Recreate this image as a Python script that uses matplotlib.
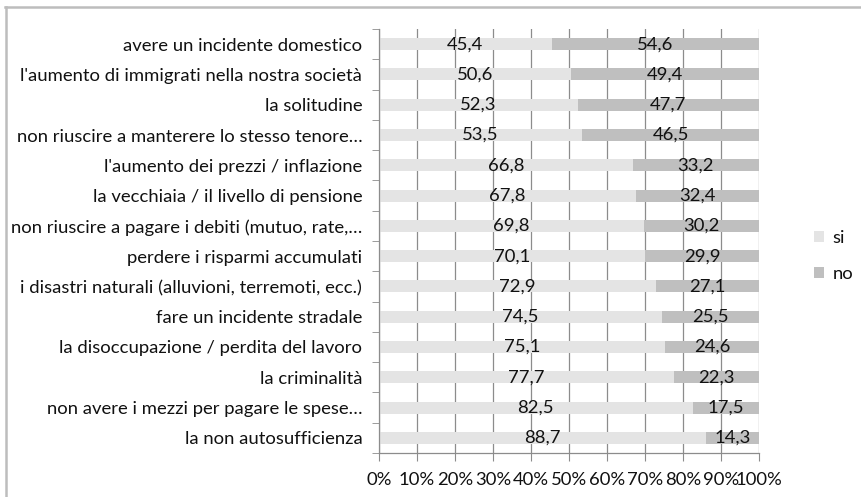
import matplotlib.pyplot as plt
import numpy as np
from matplotlib.lines import Line2D
from matplotlib.patches import Patch

categorie = [
    "avere un incidente domestico",
    "l'aumento di immigrati nella nostra società",
    "la solitudine",
    "non riuscire a manterere lo stesso tenore…",
    "l'aumento dei prezzi / inflazione",
    "la vecchiaia / il livello di pensione",
    "non riuscire a pagare i debiti (mutuo, rate,…",
    "perdere i risparmi accumulati",
    "i disastri naturali (alluvioni, terremoti, ecc.)",
    "fare un incidente stradale",
    "la disoccupazione / perdita del lavoro",
    "la criminalità",
    "non avere i mezzi per pagare le spese…",
    "la non autosufficienza",
]
si = [45.4, 50.6, 52.3, 53.5, 66.8, 67.8, 69.8, 70.1, 72.9, 74.5, 75.1, 77.7, 82.5, 88.7]
no = [54.6, 49.4, 47.7, 46.5, 33.2, 32.4, 30.2, 29.9, 27.1, 25.5, 24.6, 22.3, 17.5, 14.3]
xtick_labels = ["0%", "10%", "20%", "30%", "40%", "50%", "60%", "70%", "80%", "90%", "100%"]

plt.rcParams['font.family'] = ['Lato', 'DejaVu Sans']
testo = '#111111'
col_si = '#e4e4e4'
col_no = '#bfbfbf'
col_griglia = '#8c8c8c'
fs = 13.3

W, H = 861, 497
fig = plt.figure(figsize=(W / 100, H / 100), dpi=100)
ax = fig.add_axes([379 / W, 1 - 453 / H, 380 / W, 424 / H])

si_a = np.array(si)
no_a = np.array(no)
tot = si_a + no_a
si_p = si_a / tot * 100
no_p = no_a / tot * 100
y = np.arange(len(categorie))

ax.barh(y, si_p, height=0.4, color=col_si, zorder=2)
ax.barh(y, no_p, left=si_p, height=0.4, color=col_no, zorder=2)

for i in range(len(categorie)):
    ax.text(si_p[i] / 2, y[i], f"{si[i]:.1f}".replace('.', ','), ha='center', va='center',
            fontsize=fs, color=testo, zorder=3)
    ax.text(si_p[i] + no_p[i] / 2, y[i], f"{no[i]:.1f}".replace('.', ','), ha='center', va='center',
            fontsize=fs, color=testo, zorder=3)

ax.set_xlim(0, 100)
ax.set_ylim(len(categorie) - 0.5, -0.5)
ax.set_xticks(np.arange(0, 101, 10))
ax.set_xticklabels(xtick_labels, fontsize=fs, color=testo)
ax.set_yticks(y)
ax.set_yticklabels(categorie, fontsize=fs, color=testo)
ax.set_yticks(np.arange(-0.5, len(categorie), 1), minor=True)
ax.tick_params(axis='y', which='major', length=0, pad=12)
ax.tick_params(axis='y', which='minor', length=5, color=col_griglia, direction='out')
ax.tick_params(axis='x', length=6, color=col_griglia, direction='out', pad=8)

ax.grid(axis='x', color=col_griglia, linewidth=0.9, zorder=0)
ax.set_axisbelow(True)
for s in ['top', 'right']:
    ax.spines[s].set_visible(False)
for s in ['left', 'bottom']:
    ax.spines[s].set_color(col_griglia)
    ax.spines[s].set_linewidth(0.9)

handles = [Patch(facecolor=col_si, edgecolor='none'), Patch(facecolor=col_no, edgecolor='none')]
fig.legend(handles, ['si', 'no'], loc='center left', bbox_to_anchor=(814 / W, 1 - 256 / H),
           frameon=False, fontsize=fs, handlelength=0.55, handleheight=0.55,
           handletextpad=0.45, labelspacing=1.1, labelcolor=testo,
           borderpad=0, borderaxespad=0)

# bordo del grafico
fig.add_artist(Line2D([5 / W, 1], [1 - 7 / H, 1 - 7 / H], transform=fig.transFigure,
                      color='#bdbdbd', linewidth=1.8))
fig.add_artist(Line2D([5.5 / W, 5.5 / W], [0, 1 - 7 / H], transform=fig.transFigure,
                      color='#bdbdbd', linewidth=1.8))

fig.savefig('out.png', dpi=100)
